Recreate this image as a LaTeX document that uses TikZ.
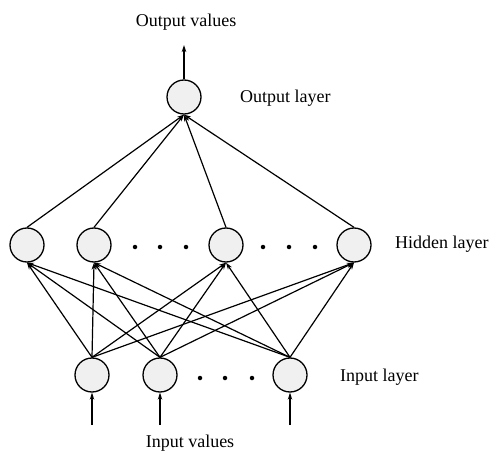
\documentclass[tikz,border=0pt]{standalone}
\usepackage{fontspec}
\setmainfont{Liberation Serif}
\usetikzlibrary{arrows.meta}
\begin{document}
\begin{tikzpicture}[x=1pt,y=-1pt,
  neuron/.style={circle,draw=black,line width=1.3pt,fill=black!6,minimum size=34pt,inner sep=0pt},
  conn/.style={line width=1.2pt,-{Stealth[length=7pt,width=4.5pt]}},
  lbl/.style={font=\fontsize{18}{21}\selectfont,inner sep=0pt},
  dotm/.style={circle,fill=black,minimum size=4.5pt,inner sep=0pt}]
\useasboundingbox (0,0) rectangle (492,454);
% nodes
\node[neuron] (o) at (184,97) {};
\node[neuron] (h1) at (27,245) {};
\node[neuron] (h2) at (94,245) {};
\node[neuron] (h3) at (226,245) {};
\node[neuron] (h4) at (354,245) {};
\node[neuron] (i1) at (92,375) {};
\node[neuron] (i2) at (160,375) {};
\node[neuron] (i3) at (290,375) {};
% dots
\foreach \x/\n in {135/a,160/b,186/c,263/d,289/e,315/f}
  \node[dotm] (hd\n) at (\x,247) {};
\foreach \x/\n in {200/a,225/b,252/c}
  \node[dotm] (id\n) at (\x,378) {};
% labels
\node[lbl] (ov) at (186,22) {Output values};
\node[lbl,anchor=west] (ol) at (240,98) {Output layer};
\node[lbl,anchor=west] (hl) at (395,244) {Hidden layer};
\node[lbl,anchor=west] (il) at (340,377) {Input layer};
\node[lbl] (iv) at (190,443) {Input values};
% coordinates for free ends
\coordinate (otop) at (184,45);
\coordinate (in1) at (92,425);
\coordinate (in2) at (160,425);
\coordinate (in3) at (290,425);
% connections
\draw[conn] (o.north) -- (otop);
\foreach \h in {h1,h2,h3,h4}
  \draw[conn] (\h.north) -- (o.south);
\foreach \i in {i1,i2,i3}
  \foreach \h in {h1,h2,h3,h4}
    \draw[conn] (\i.north) -- (\h.south);
\draw[conn] (in1) -- (i1.south);
\draw[conn] (in2) -- (i2.south);
\draw[conn] (in3) -- (i3.south);
\end{tikzpicture}
\end{document}
